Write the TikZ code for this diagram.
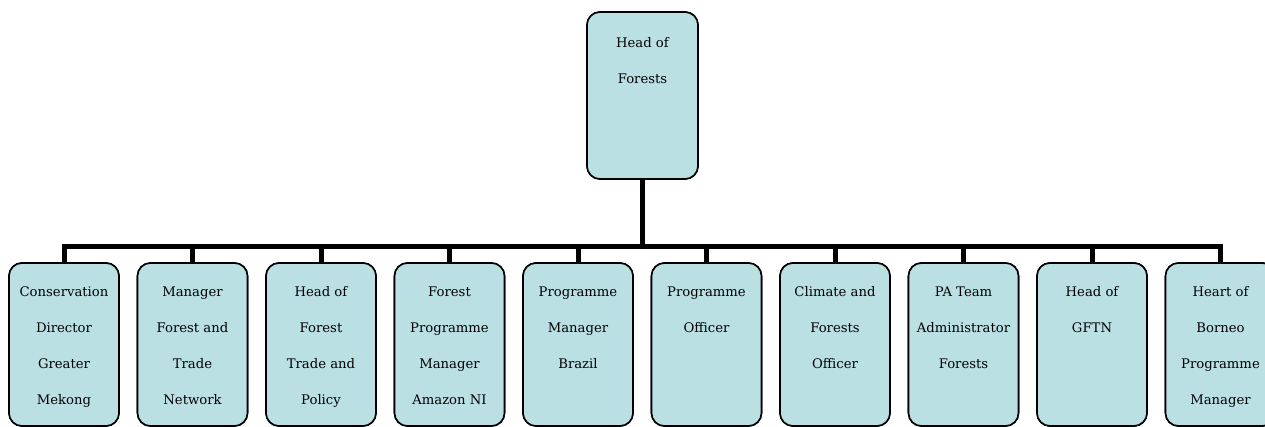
\documentclass[tikz,border=0pt]{standalone}
\usepackage{fontspec}
\setmainfont{DejaVu Serif}
\definecolor{boxfill}{RGB}{186,224,228}
\tikzset{
  orgbox/.style={draw=black, line width=1.6pt, fill=boxfill, rounded corners=13pt,
    minimum width=110pt, minimum height=163pt, inner sep=0pt},
  topbox/.style={orgbox, minimum width=111pt, minimum height=167pt},
  lbl/.style={align=center, inner sep=0pt, anchor=north,
    font={\fontsize{13.2}{36}\selectfont}},
  conn/.style={draw=black, line width=5pt}
}
\begin{document}
\begin{tikzpicture}[x=1pt,y=1pt]
\useasboundingbox (0,0) rectangle (1265,426);
\begin{scope}
\clip (0,0) rectangle (1265,426);
% top node
\node[topbox] (top) at (642.5,330.5) {};
% bottom nodes
\foreach \i in {1,...,10} {
  \node[orgbox] (b\i) at ({64+128.5*(\i-1)},81.5) {};
}
% connectors
\draw[conn] (top.south) -- ++(0,-66.5) coordinate (j);
\draw[conn] (b1.north) -- (b1.north |- j) -- (b10.north |- j) -- (b10.north);
\foreach \i in {2,...,9} {
  \draw[conn] (b\i.north |- j) -- (b\i.north);
}
% redraw boxes on top of connector ends
\node[topbox] (topr) at (top) {};
\foreach \i in {1,...,10} {
  \node[orgbox] (br\i) at (b\i) {};
}
% labels
\node[lbl] (ttop) at ([yshift=-26]top.north) {Head of\\Forests};
\node[lbl] (t1) at ([yshift=-24]b1.north) {Conservation\\Director\\Greater\\Mekong};
\node[lbl] (t2) at ([yshift=-24]b2.north) {Manager\\Forest and\\Trade\\Network};
\node[lbl] (t3) at ([yshift=-24]b3.north) {Head of\\Forest\\Trade and\\Policy};
\node[lbl] (t4) at ([yshift=-24]b4.north) {Forest\\Programme\\Manager\\Amazon NI};
\node[lbl] (t5) at ([yshift=-24]b5.north) {Programme\\Manager\\Brazil};
\node[lbl] (t6) at ([yshift=-24]b6.north) {Programme\\Officer};
\node[lbl] (t7) at ([yshift=-24]b7.north) {Climate and\\Forests\\Officer};
\node[lbl] (t8) at ([yshift=-24]b8.north) {PA Team\\Administrator\\Forests};
\node[lbl] (t9) at ([yshift=-24]b9.north) {Head of\\GFTN};
\node[lbl] (t10) at ([yshift=-24]b10.north) {Heart of\\Borneo\\Programme\\Manager};
\end{scope}
\end{tikzpicture}
\end{document}
